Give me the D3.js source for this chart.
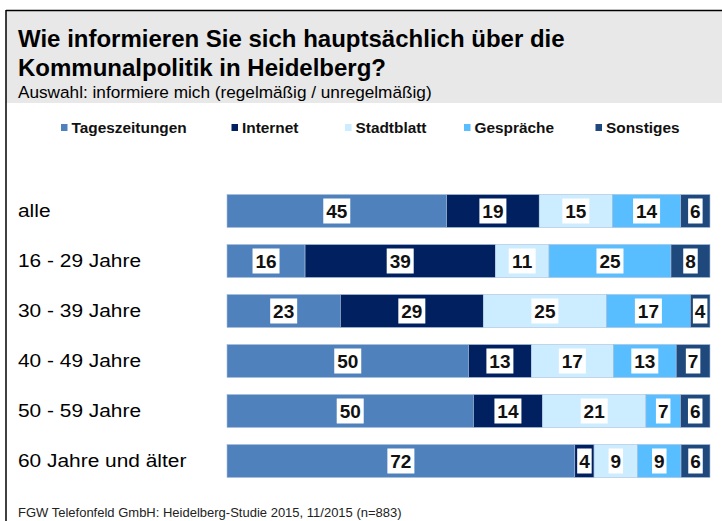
<!DOCTYPE html>
<html><head><meta charset="utf-8">
<script src="https://cdn.jsdelivr.net/npm/d3@7"></script>
<style>body{margin:0;background:#fff}svg{display:block;font-family:Arial,"Liberation Sans",sans-serif}</style>
</head><body><svg id="c" width="722" height="521"></svg>
<script>
const categories = ["alle","16 - 29 Jahre","30 - 39 Jahre","40 - 49 Jahre","50 - 59 Jahre","60 Jahre und älter"];
const seriesNames = ["Tageszeitungen","Internet","Stadtblatt","Gespräche","Sonstiges"];
const tageszeitungen = [45,16,23,50,50,72];
const internet = [19,39,29,13,14,4];
const stadtblatt = [15,11,25,17,21,9];
const gespraeche = [14,25,17,13,7,9];
const sonstiges = [6,8,4,7,6,6];
const colors = ["#4F81BD","#002060","#CCECFF","#59BEFF","#1F497D"];
const seriesValues = [tageszeitungen, internet, stadtblatt, gespraeche, sonstiges];

const svg = d3.select("#c");
// frame + header
svg.append("rect").attr("x",6).attr("y",10).attr("width",716).attr("height",93).attr("fill","#E8E8E8");
svg.append("line").attr("x1",6).attr("x2",722).attr("y1",10.5).attr("y2",10.5).attr("stroke","#000").attr("stroke-width",1.5);
svg.append("line").attr("x1",6).attr("x2",6).attr("y1",10).attr("y2",521).attr("stroke","#000").attr("stroke-width",1.5);

svg.append("text").attr("x",18).attr("y",47).attr("font-size",24).attr("font-weight","bold").text("Wie informieren Sie sich hauptsächlich über die");
svg.append("text").attr("x",18).attr("y",76).attr("font-size",24).attr("font-weight","bold").text("Kommunalpolitik in Heidelberg?");
svg.append("text").attr("x",18).attr("y",98).attr("font-size",17.2).text("Auswahl: informiere mich (regelmäßig / unregelmäßig)");

// legend
const legendX = [61, 231.5, 345, 464, 595.5];
const lg = svg.append("g");
seriesNames.forEach((n,i)=>{
  lg.append("rect").attr("x",legendX[i]).attr("y",124).attr("width",6.5).attr("height",7).attr("fill",colors[i]);
  lg.append("text").attr("x",legendX[i]+10.5).attr("y",132.5).attr("font-size",15.4).attr("font-weight","bold").attr("fill","#111").text(n);
});

// bars
const y = d3.scaleBand().domain(categories).range([186,486]).paddingInner(0.34).paddingOuter(0.17);
const x0 = 227, x1 = 710;
const g = svg.append("g");
categories.forEach((c,ci)=>{
  const vals = seriesValues.map(s=>s[ci]);
  const total = d3.sum(vals);
  const x = d3.scaleLinear().domain([0,total]).range([x0,x1]);
  const yy = y(c), h = y.bandwidth();
  svg.append("text").attr("transform",`translate(18,${yy+h/2}) scale(1.13,1)`).attr("dy","0.35em").attr("font-size",18.5).attr("fill","#000").text(c);
  let acc = 0;
  vals.forEach((v,si)=>{
    const a = x(acc), b = x(acc+v);
    g.append("rect").attr("x",a).attr("y",yy).attr("width",b-a).attr("height",h)
      .attr("fill",colors[si]).attr("stroke","#A9BEDC").attr("stroke-width",0.6);
    acc += v;
  });
});
// labels
categories.forEach((c,ci)=>{
  const vals = seriesValues.map(s=>s[ci]);
  const total = d3.sum(vals);
  const x = d3.scaleLinear().domain([0,total]).range([x0,x1]);
  const yy = y(c), h = y.bandwidth();
  let acc = 0;
  vals.forEach((v,si)=>{
    const cx = x(acc + v/2);
    const t = String(v);
    const w = t.length===1 ? 14.5 : 27;
    g.append("rect").attr("x",cx-w/2).attr("y",yy+h/2-12.5).attr("width",w).attr("height",25).attr("fill","#fff");
    g.append("text").attr("x",cx).attr("y",yy+h/2).attr("dy","0.36em").attr("text-anchor","middle")
      .attr("font-size",19).attr("font-weight","bold").attr("fill","#111").text(t);
    acc += v;
  });
});

svg.append("text").attr("x",18).attr("y",517).attr("font-size",13).attr("fill","#222").text("FGW Telefonfeld GmbH: Heidelberg-Studie 2015, 11/2015 (n=883)");
</script></body></html>
